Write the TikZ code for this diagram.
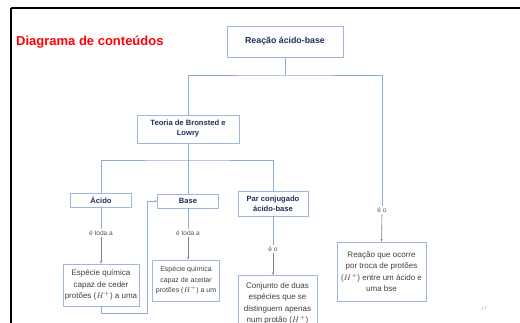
\documentclass[tikz,border=0pt]{standalone}
\usepackage{fontspec}
\setmainfont{Liberation Sans}
\usetikzlibrary{arrows.meta}
\definecolor{boxblue}{HTML}{9DB7E0}
\definecolor{lineblue}{HTML}{8FAADC}
\definecolor{navy}{HTML}{1F2F5F}
\definecolor{txtgray}{HTML}{404040}
\definecolor{lblgray}{HTML}{555555}
\tikzset{
  topbox/.style={draw=boxblue, line width=0.8pt, fill=white, text=navy, align=center, inner sep=1pt,
    font=\fontsize{7.6}{10}\selectfont\bfseries},
  lowbox/.style={draw=boxblue, line width=0.8pt, fill=white, text=txtgray, align=center, inner sep=1pt,
    font=\fontsize{8}{11.5}\selectfont},
  lbl/.style={text=lblgray, inner sep=1.5pt, font=\fontsize{6.6}{7.5}\selectfont},
  conn/.style={draw=lineblue, line width=0.7pt},
  arr/.style={draw=gray, line width=0.6pt, -{Stealth[length=2.5pt,width=2pt]}},
}
\begin{document}
\begin{tikzpicture}[x=1pt,y=-1pt]
\clip (0,0) rectangle (520,323);
\fill[white] (0,0) rectangle (520,323);
% frame
\draw[black, line width=2.5pt] (11,8) -- (520,8);
\draw[black, line width=2.5pt] (11,8) -- (11,323);
% title
\node[anchor=west, text=red, font=\fontsize{13}{15}\selectfont\bfseries, inner sep=0pt] (title) at (16,42) {Diagrama de conteúdos};
% nodes
\node[topbox, minimum width=116pt, minimum height=31pt, font=\fontsize{8.8}{10}\selectfont\bfseries] (rab) at (285,41.5) {Reação ácido-base};
\node[topbox, minimum width=102pt, minimum height=28pt] (teoria) at (188,129) {Teoria de Bronsted e\\Lowry};
\node[topbox, minimum width=61pt, minimum height=14pt] (acido) at (101,200) {Ácido};
\node[topbox, minimum width=61pt, minimum height=14pt] (base) at (188,201) {Base};
\node[topbox, minimum width=70pt, minimum height=25pt] (par) at (273,203.5) {Par conjugado\\ácido-base};
\node[lbl] (l1) at (101,233) {é toda a};
\node[lbl] (l2) at (188,233) {é toda a};
\node[lbl] (l3) at (273,249) {é o};
\node[lbl] (l4) at (382,210) {é o};
\node[lowbox, minimum width=76pt, minimum height=42pt] (esp1) at (101,285) {Espécie química\\capaz de ceder\\protões ($H^+$) a uma};
\node[lowbox, minimum width=67pt, minimum height=41pt, font=\fontsize{7}{10.5}\selectfont] (esp2) at (186,280.5) {Espécie química\\capaz de aceitar\\protões ($H^+$) a um};
\node[lowbox, minimum width=79pt, minimum height=56pt, anchor=north] (conj) at (277.5,275) {Conjunto de duas\\espécies que se\\distinguem apenas\\num protão ($H^+$)};
\node[lowbox, minimum width=89pt, minimum height=59pt] (reac) at (381.5,271.5) {Reação que ocorre\\por troca de protões\\($H^+$) entre um ácido e\\uma bse};
\node[text=gray!60, font=\fontsize{5}{6}\selectfont, inner sep=0pt] (pg) at (484,309) {17};
% junction coordinates
\coordinate (y75) at (0,75);
\coordinate (y160) at (0,160);
\coordinate (c313) at (147,313);
% connectors
\draw[conn] (rab.south) -- (rab.south |- y75);
\draw[conn] (teoria.north) |- (rab.south |- y75) -| (l4.north);
\draw[conn] (teoria.south) -- (base.north);
\draw[conn] (acido.north) |- (teoria.south |- y160) -| (par.north);
\draw[conn] (acido.south) -- (l1.north);
\draw[conn] (base.south) -- (l2.north);
\draw[conn] (par.south) -- (l3.north);
\draw[arr] (l1.south) -- (esp1.north);
\draw[arr] (l2.south) -- (l2.south |- esp2.north);
\draw[arr] (l3.south) -- (l3.south |- conj.north);
\draw[arr] (l4.south) -- (reac.north);
\draw[conn, -{Stealth[length=2.5pt,width=2pt]}] (esp1.south) |- (c313) |- (base.west);
\end{tikzpicture}
\end{document}
